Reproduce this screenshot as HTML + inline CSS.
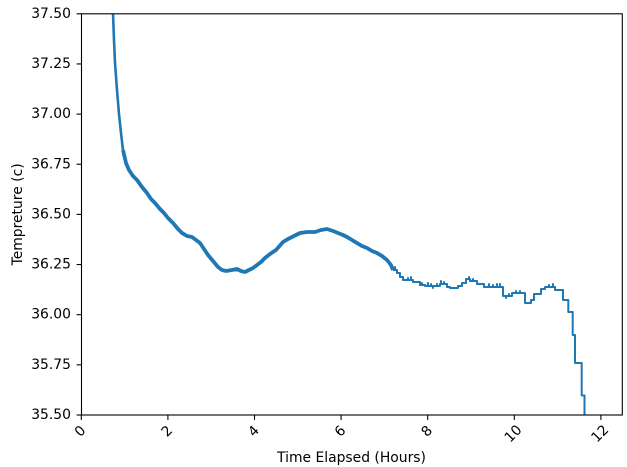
<!DOCTYPE html>
<html><head><meta charset="utf-8"><style>
html,body{margin:0;padding:0;background:#fff;}
svg{display:block;}
text{font-family:"DejaVu Sans","Liberation Sans",sans-serif;font-size:13.9px;fill:#000;}
</style></head><body>
<svg width="627" height="467" viewBox="0 0 627 467" xmlns="http://www.w3.org/2000/svg">
<defs><clipPath id="c"><rect x="81.5" y="13.8" width="540.8" height="401.2"/></clipPath></defs>
<g clip-path="url(#c)" fill="none" stroke="#1f77b4" stroke-linejoin="round">
<path stroke-width="2.6" d="M112.5,5 L113,13 L114,40 L115,63 L117,90 L119,114 L121,133 L123,150"/>
<path stroke-width="3.8" d="M123,150 L126,163 L129,170 L133,176 L137,180 L142,187 L147,193 L151,199 L155,203 L160,209 L164,213 L168,218 L173,223 L178,229 L182,233 L187,236 L192,237 L196,240 L200,243 L204,249 L208,255 L213,261 L218,267 L222,270 L226,271 L232,270 L237,269 L241,271 L245,272 L249,270 L253,268 L257,265 L261,262 L265,258 L270,254 L276,250 L283,242 L288,239 L292,237 L296,235 L300,233 L307,232 L315,232 L321,230 L327,229 L333,231 L338,233 L343,235 L347,237 L352,240 L357,243 L362,246 L367,248 L372,251 L377,253 L382,256 L387,260 L391,265 L393,270"/>
<path stroke-width="2" d="M393,270 H395 V267 V270 H397 V273 H400 V277 H403 V280 H408 V278 V280 H411 V277 V280 H413 V282 H420 V285 H422 V283 V285 H425 V286 H428 V283 V286 H431 V284 V286 H433 V288 V286 H437 V284 V286 H440 V284 H441 V281 V284 H444 V282 V284 H447 V287 H450 V288 H458 V286 H462 V283 H466 V279 H469 V277 V279 H470 V281 H473 V279 V281 H477 V284 H484 V287 H489 V284 V287 H493 V285 V287 H497 V284 V287 H500 V284 V287 H503 V296 H506 V298 V296 H509 V294 V296 H512 V293 H516 V291 V293 H520 V291 V293 H525 V303 H531 V300 H534 V294 H541 V289 H545 V287 H549 V285 V287 H553 V284 V287 H555 V290 H563 V300 H568.3 V312 H572.7 V335 H575 V363 H581.7 V395.5 H584.5 V420"/>
</g>
<rect x="81.5" y="13.8" width="540.8" height="401.2" fill="none" stroke="#000" stroke-width="1.1"/>
<g stroke="#000" stroke-width="1.1">
<line x1="76.6" x2="81.5" y1="13.8" y2="13.8"/>
<line x1="76.6" x2="81.5" y1="63.95" y2="63.95"/>
<line x1="76.6" x2="81.5" y1="114.1" y2="114.1"/>
<line x1="76.6" x2="81.5" y1="164.25" y2="164.25"/>
<line x1="76.6" x2="81.5" y1="214.4" y2="214.4"/>
<line x1="76.6" x2="81.5" y1="264.55" y2="264.55"/>
<line x1="76.6" x2="81.5" y1="314.7" y2="314.7"/>
<line x1="76.6" x2="81.5" y1="364.85" y2="364.85"/>
<line x1="76.6" x2="81.5" y1="415" y2="415"/>
<line y1="415" y2="419.9" x1="81.3" x2="81.3"/>
<line y1="415" y2="419.9" x1="167.9" x2="167.9"/>
<line y1="415" y2="419.9" x1="254.5" x2="254.5"/>
<line y1="415" y2="419.9" x1="341.1" x2="341.1"/>
<line y1="415" y2="419.9" x1="427.7" x2="427.7"/>
<line y1="415" y2="419.9" x1="514.3" x2="514.3"/>
<line y1="415" y2="419.9" x1="600.9" x2="600.9"/>
</g>
<g text-anchor="end" dominant-baseline="central">
<text x="71" y="13.8">37.50</text>
<text x="71" y="63.95">37.25</text>
<text x="71" y="114.1">37.00</text>
<text x="71" y="164.25">36.75</text>
<text x="71" y="214.4">36.50</text>
<text x="71" y="264.55">36.25</text>
<text x="71" y="314.7">36.00</text>
<text x="71" y="364.85">35.75</text>
<text x="71" y="415">35.50</text>
</g>
<g text-anchor="middle" dominant-baseline="central">
<text transform="translate(80.5,431.5) rotate(-45)">0</text>
<text transform="translate(167.3,431.5) rotate(-45)">2</text>
<text transform="translate(254,431.5) rotate(-45)">4</text>
<text transform="translate(340.6,431.5) rotate(-45)">6</text>
<text transform="translate(427.2,431.5) rotate(-45)">8</text>
<text transform="translate(513.5,434) rotate(-45)">10</text>
<text transform="translate(600.3,434) rotate(-45)">12</text>
</g>
<text x="351.5" y="462" text-anchor="middle">Time Elapsed (Hours)</text>
<text transform="translate(22,214.4) rotate(-90)" text-anchor="middle">Tempreture (c)</text>
</svg>
</body></html>
